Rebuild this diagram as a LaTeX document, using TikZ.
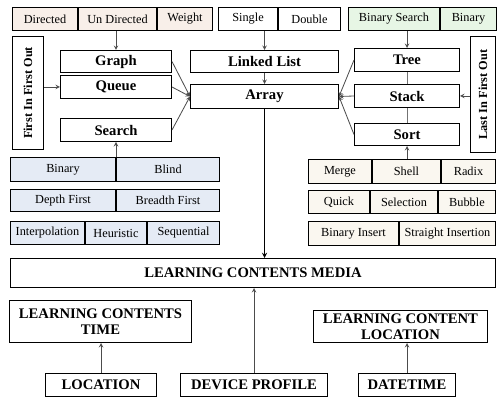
\documentclass[tikz,border=0pt]{standalone}
\usepackage{fontspec}
\setmainfont{Liberation Serif}
\usepackage{graphicx}
\usetikzlibrary{arrows.meta}
\definecolor{graphfill}{RGB}{248,239,233}
\definecolor{treefill}{RGB}{231,246,229}
\definecolor{searchfill}{RGB}{229,235,245}
\definecolor{sortfill}{RGB}{250,247,240}

\begin{document}
\begin{tikzpicture}
  [x=0.03cm,y=-0.03cm,every node/.style={shape=rectangle, draw,
    line width=1.2pt, inner sep=1pt, align=center},
  big/.style={font=\bfseries\fontsize{12.5}{14}\selectfont},
  small/.style={font=\fontsize{10.5}{12}\selectfont},
  turned/.style={font=\bfseries\fontsize{10.5}{12}\selectfont},
  sz/.style 2 args={minimum width=#1*0.03cm-1.2pt, minimum height=#2*0.03cm-1.2pt},
  graphcell/.style={small, fill=graphfill},
  treecell/.style={small, fill=treefill},
  searchcell/.style={small, fill=searchfill},
  sortcell/.style={small, fill=sortfill}]
  \useasboundingbox (0,0) rectangle (498,399);
  \node[graphcell, sz={66}{24}] (dir) at (45,19) {Directed};
  \node[graphcell, sz={79}{24}] (undir) at (117.5,19) {Un Directed};
  \node[graphcell, sz={56}{24}] (wgt) at (185,19) {Weight};
  \node[small, sz={60}{24}] (sgl) at (248,19) {Single};
  \node[small, sz={63}{24}] (dbl) at (309.5,19) {Double};
  \node[treecell, sz={92}{24}] (bsrch) at (394,19) {Binary Search};
  \node[treecell, sz={57}{24}] (tbin) at (468.5,19) {Binary};
  \node[turned, sz={32}{114}] (fifo) at (28,93) {\rotatebox{90}{First In First Out}};
  \node[turned, sz={26}{117}] (lifo) at (483,94.5) {\rotatebox{90}{Last In First Out}};
  \node[big, sz={112}{23}] (gr) at (116,61.5) {Graph};
  \node[big, sz={112}{24}] (qu) at (116,87) {Queue};
  \node[big, sz={112}{24}] (se) at (116,130) {Search};
  \node[big, sz={149}{23}] (lst) at (264.5,61.5) {Linked List};
  \node[big, sz={149}{25}] (arr) at (264.5,96.5) {Array};
  \node[big, sz={106}{24}] (tree) at (407,60) {Tree};
  \node[big, sz={106}{24}] (stack) at (407,96) {Stack};
  \node[big, sz={106}{23}] (sort) at (407,134.5) {Sort};
  \node[searchcell, sz={106}{25}] (sbin) at (63,169.5) {Binary};
  \node[searchcell, sz={104}{25}] (blind) at (168,169.5) {Blind};
  \node[searchcell, sz={106}{23}] (depth) at (63,200.5) {Depth First};
  \node[searchcell, sz={104}{23}] (breadth) at (168,200.5) {Breadth First};
  \node[searchcell, sz={75}{24}] (interp) at (47.5,233) {Interpolation};
  \node[searchcell, sz={62}{24}] (heur) at (116,233) {Heuristic};
  \node[searchcell, sz={73}{24}] (seq) at (183.5,233) {Sequential};
  \node[sortcell, sz={64}{25}] (merge) at (340,171.5) {Merge};
  \node[sortcell, sz={69}{25}] (shell) at (406.5,171.5) {Shell};
  \node[sortcell, sz={55}{25}] (radix) at (468.5,171.5) {Radix};
  \node[sortcell, sz={62}{24}] (quick) at (339,202) {Quick};
  \node[sortcell, sz={68}{24}] (sel) at (404,202) {Selection};
  \node[sortcell, sz={58}{24}] (bub) at (467,202) {Bubble};
  \node[sortcell, sz={91}{25}] (binins) at (353.5,233.5) {Binary Insert};
  \node[sortcell, sz={97}{25}] (strins) at (447.5,233.5) {Straight Insertion};
  \node[big, sz={486}{30}] (media) at (253,273) {LEARNING CONTENTS MEDIA};
  \node[big, sz={183}{43}] (time) at (100.5,321.5) {LEARNING CONTENTS\\TIME};
  \node[big, sz={175}{33}] (cloc) at (400.5,326.5) {LEARNING CONTENT\\LOCATION};
  \node[big, sz={112}{24}] (loc) at (101,385) {LOCATION};
  \node[big, sz={148}{24}] (dev) at (254,385) {DEVICE PROFILE};
  \node[big, sz={98}{24}] (dtime) at (407,385) {DATETIME};
  \begin{scope}[line width=0.7pt, black!70, -stealth]
  \foreach \from/\to in {gr.east/arr.west, qu.east/arr.west, se.east/arr.west,
    tree.west/arr.east, stack.west/arr.east, sort.west/arr.east,
    fifo.east |- qu.west/qu.west, lifo.west |- stack.east/stack.east,
    gr.north |- undir.south/gr.north, lst.north |- sgl.south/lst.north,
    tree.north |- bsrch.south/tree.north, lst.south/arr.north,
    se.south |- sbin.north/se.south, sort.south |- shell.north/sort.south,
    loc.north/loc.north |- time.south, dev.north/dev.north |- media.south,
    dtime.north/dtime.north |- cloc.south}
     \draw (\from) -- (\to);
  \end{scope}
  \draw[line width=0.7pt, black!55] (tree.south) -- (stack.north) (stack.south) -- (sort.north);
  \draw[line width=1pt, -stealth] (arr.south) -- (arr.south |- media.north);
\end{tikzpicture}
\end{document}
